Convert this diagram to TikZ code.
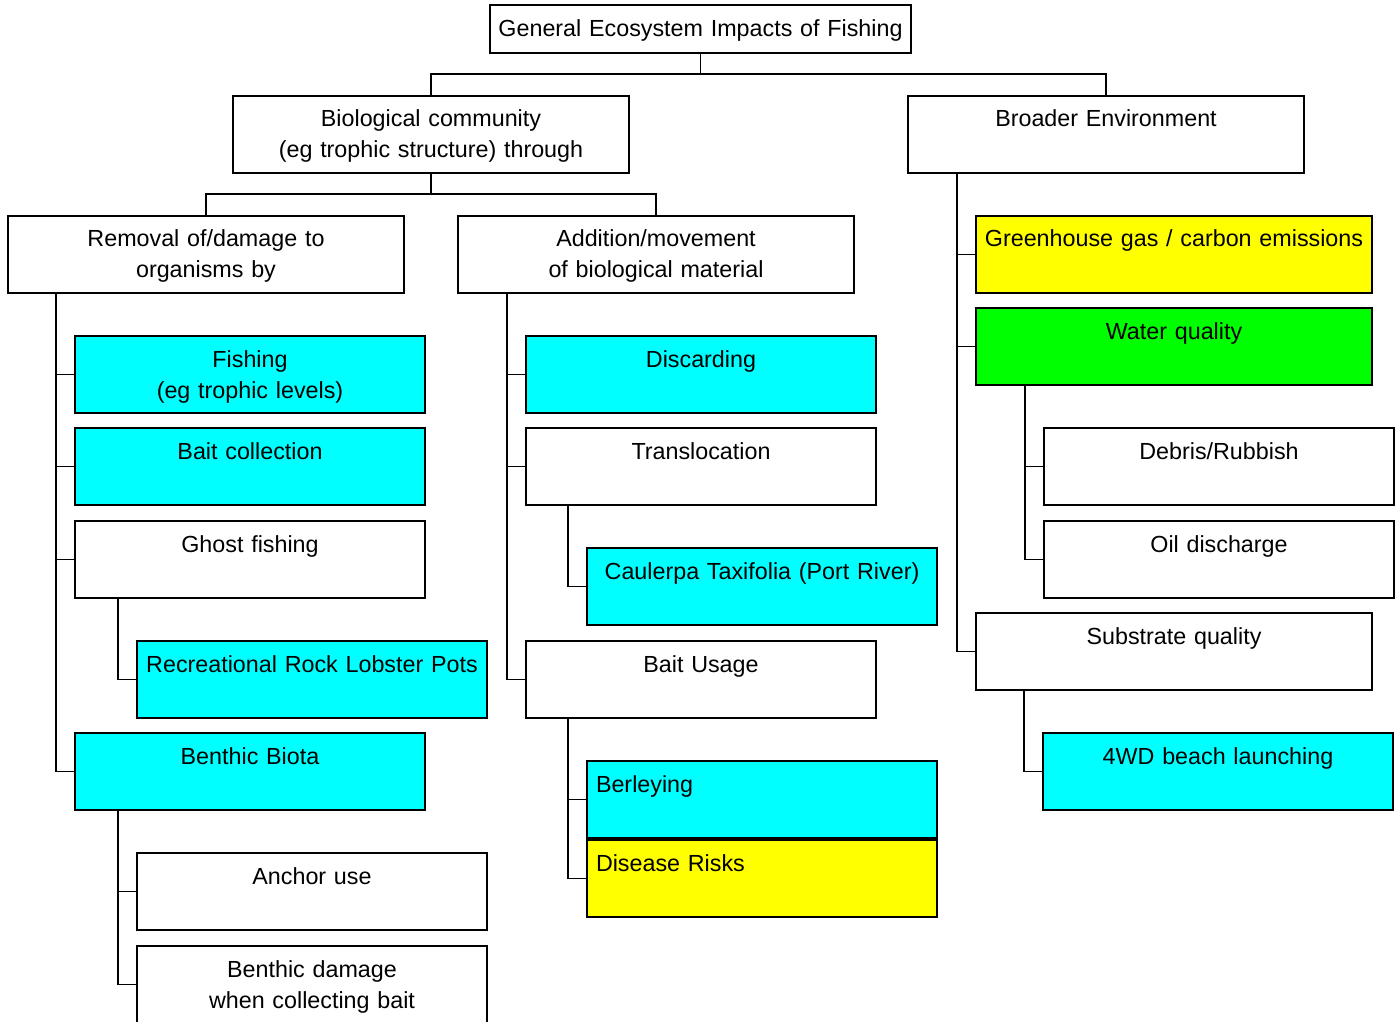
\documentclass[tikz,border=0pt]{standalone}
\usepackage{fontspec}
\setmainfont{Liberation Sans}

\definecolor{aqua}{RGB}{0,255,255}
\definecolor{lime}{RGB}{0,255,0}
\definecolor{lemon}{RGB}{255,255,0}

\tikzset{
  box/.style={draw, line width=0.8pt, anchor=north west, inner sep=0pt, outer sep=0pt,
    text width=175pt, align=center, text height=15.5pt, text depth=23pt,
    font=\fontsize{11.65}{15.5}\selectfont},
  wide/.style={text width=198pt},
  leftbox/.style={box, inner xsep=4.5pt, text width=166pt, align=left},
  link/.style={line width=0.8pt},
}

\begin{document}
\begin{tikzpicture}[x=0.5pt, y=-0.5pt]
                \useasboundingbox (0,0) rectangle (1399,1022);
                \node [box, text width=210.5pt, text height=16pt, text depth=8pt] (root) at (490,5) {General Ecosystem Impacts of Fishing};
                \node [box, wide] (bio) at (233,96) {Biological community\\(eg trophic structure) through};
                \node [box, wide] (env) at (908,96) {Broader Environment};
                \node [box, wide] (rem) at (8,216) {Removal of/damage to\\organisms by};
                \node [box, wide] (add) at (458,216) {Addition/movement\\of biological material};
                % left column
                \node [box, fill=aqua] (fish) at (75,336) {Fishing\\(eg trophic levels)};
                \node [box, fill=aqua] (bait) at (75,428) {Bait collection};
                \node [box] (ghost) at (75,521) {Ghost fishing};
                \node [box, fill=aqua] (lobster) at (137,641) {Recreational Rock Lobster Pots};
                \node [box, fill=aqua] (biota) at (75,733) {Benthic Biota};
                \node [box] (anchor) at (137,853) {Anchor use};
                \node [box] (damage) at (137,946) {Benthic damage\\when collecting bait};
                % middle column
                \node [box, fill=aqua] (disc) at (526,336) {Discarding};
                \node [box] (transl) at (526,428) {Translocation};
                \node [box, fill=aqua] (caul) at (587,548) {Caulerpa Taxifolia (Port River)};
                \node [box] (usage) at (526,641) {Bait Usage};
                \node [leftbox, fill=aqua] (berley) at (587,761) {Berleying};
                \node [leftbox, fill=lemon] (disease) at (587,840) {Disease Risks};
                % right column
                \node [box, wide, fill=lemon] (ghg) at (976,216) {Greenhouse gas / carbon emissions};
                \node [box, wide, fill=lime] (water) at (976,308) {Water quality};
                \node [box] (debris) at (1044,428) {Debris/Rubbish};
                \node [box] (oil) at (1044,521) {Oil discharge};
                \node [box, wide] (subst) at (976,613) {Substrate quality};
                \node [box, fill=aqua] (launch) at (1043,733) {4WD beach launching};

                \draw [link] (root.south) -- ++(0,21) coordinate (j1) -| (bio.north);
                \draw [link] (j1) -| (env.north);
                \draw [link] (bio.south) -- ++(0,21) coordinate (j2) -| (rem.north);
                \draw [link] (j2) -| (add.north);
                \foreach \parent/\child in {rem/fish, rem/bait, rem/ghost, rem/biota, ghost/lobster, biota/anchor, biota/damage,
                    add/disc, add/transl, add/usage, transl/caul, usage/berley, usage/disease,
                    env/ghg, env/water, env/subst, water/debris, water/oil, subst/launch}
                  \draw [link] (\parent.south -| \child.west) ++(-19,0) |- (\child.west);
            \end{tikzpicture}
\end{document}
